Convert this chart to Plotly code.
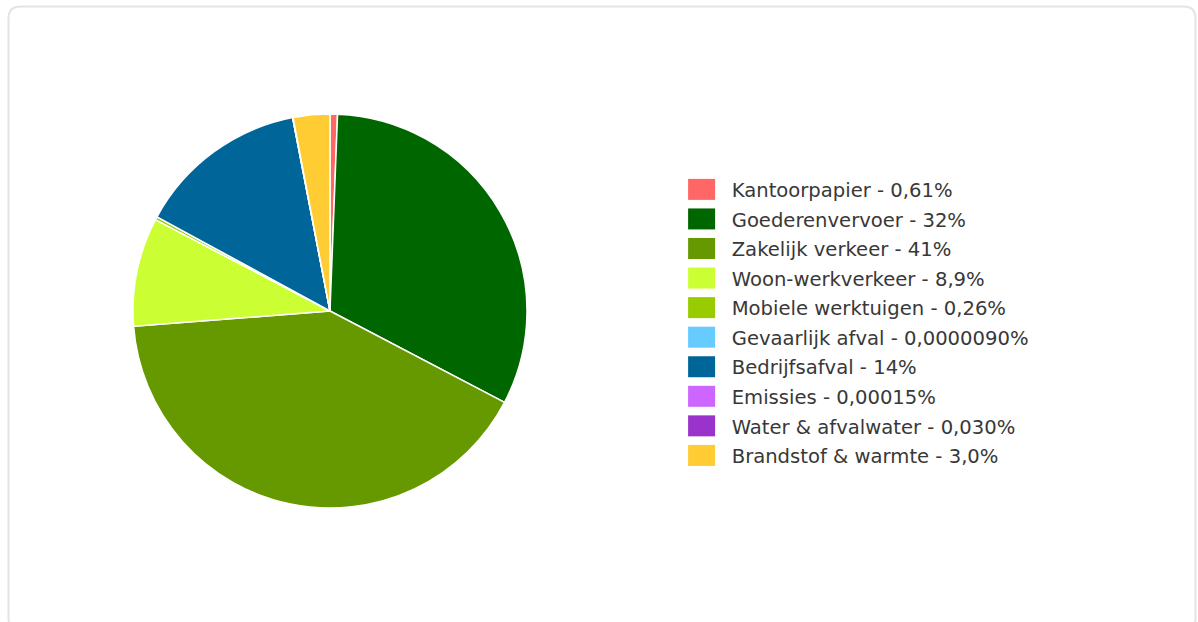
import plotly.graph_objects as go

categories = [
    "Kantoorpapier", "Goederenvervoer", "Zakelijk verkeer", "Woon-werkverkeer",
    "Mobiele werktuigen", "Gevaarlijk afval", "Bedrijfsafval", "Emissies",
    "Water & afvalwater", "Brandstof & warmte",
]
values = [0.61, 32, 41, 8.9, 0.26, 0.0000090, 14, 0.00015, 0.030, 3.0]
pct_labels = ["0,61%", "32%", "41%", "8,9%", "0,26%", "0,0000090%", "14%",
              "0,00015%", "0,030%", "3,0%"]
colors = ["#ff6666", "#006600", "#669900", "#ccff33", "#99cc00", "#66ccff",
          "#006699", "#cc66ff", "#9933cc", "#ffcc33"]

legend_text = [f"{c} - {p}" for c, p in zip(categories, pct_labels)]

W, H = 1198, 622

fig = go.Figure(go.Pie(
    labels=legend_text,
    values=values,
    sort=False,
    direction="clockwise",
    rotation=0,
    textinfo="none",
    hovertemplate="%{label}<extra></extra>",
    marker=dict(colors=colors, line=dict(color="white", width=1.5)),
    domain=dict(x=[133 / W, 527 / W], y=[(H - 508) / H, (H - 114) / H]),
))

# rounded container border
x0, y0, x1, y1, r = 8.5 / W, 1 - 6.5 / H, 1195.5 / W, 1 - 630 / H, 12
rx, ry = r / W, r / H
path = (f"M {x0+rx},{y0} L {x1-rx},{y0} Q {x1},{y0} {x1},{y0-ry} "
        f"L {x1},{y1+ry} Q {x1},{y1} {x1-rx},{y1} L {x0+rx},{y1} "
        f"Q {x0},{y1} {x0},{y1+ry} L {x0},{y0-ry} Q {x0},{y0} {x0+rx},{y0} Z")

fig.update_layout(
    width=W, height=H,
    margin=dict(l=0, r=0, t=0, b=0),
    paper_bgcolor="white",
    showlegend=True,
    legend=dict(
        x=691.7 / W, xanchor="left",
        y=1 - 322.5 / H, yanchor="middle",
        font=dict(family="DejaVu Sans", size=19.6, color="#383838"),
        bgcolor="rgba(0,0,0,0)",
    ),
    shapes=[dict(type="path", path=path, xref="paper", yref="paper",
                 line=dict(color="#e4e4e4", width=2), layer="below")],
)

post = """
document.body.style.margin = '0';
var gd = document.getElementById('{plot_id}');
gd.querySelectorAll('.legend .scrollbox').forEach(function(e){ e.removeAttribute('clip-path'); });
gd.querySelectorAll('path.legendpie').forEach(function(p){
  p.setAttribute('d', 'M13.5,10.5H-13.5V-10.5H13.5Z');
  p.setAttribute('transform', 'translate(9.9,0)');
  p.style.strokeWidth = '0px';
});
var items = Array.prototype.slice.call(gd.querySelectorAll('.legend g.traces'));
var pos = items.map(function(g){
  var m = /translate\\(\\s*([-\\d.e]+)[ ,]+([-\\d.e]+)/.exec(g.getAttribute('transform') || '');
  return m ? [parseFloat(m[1]), parseFloat(m[2])] : [0, 0];
});
if (items.length > 1) {
  var n = items.length, step = 29.56;
  var mid = (pos[0][1] + pos[n-1][1]) / 2;
  items.forEach(function(g, i){
    var y = mid + (i - (n - 1) / 2) * step;
    g.setAttribute('transform', 'translate(' + pos[i][0] + ',' + y + ')');
  });
}
"""

fig.write_html("out.html", post_script=post, config={"displayModeBar": False})
